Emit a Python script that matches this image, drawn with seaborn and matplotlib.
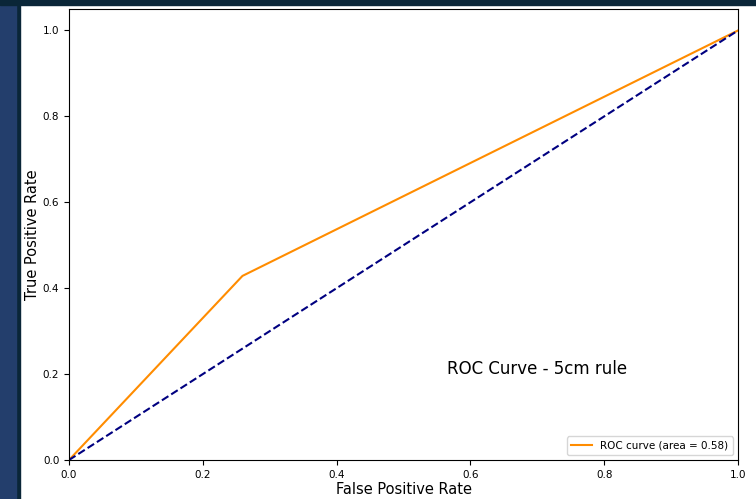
import numpy as np
import pandas as pd
import seaborn as sns
import matplotlib.pyplot as plt
from matplotlib.patches import Rectangle

# ROC points for the 5cm rule
fpr = [0.0, 0.2593, 1.0]
tpr = [0.0, 0.4286, 1.0]
chance = [0.0, 1.0]
roc_auc = 0.58

fig = plt.figure(figsize=(7.56, 4.99), dpi=100)
# screenshot border on the left / top
fig.patches.append(Rectangle((0, 0), 20 / 756, 1, transform=fig.transFigure, color='#0a2638', zorder=-1))
fig.patches.append(Rectangle((0, 0), 16 / 756, 1 - 5 / 499, transform=fig.transFigure, color='#233e6c', zorder=-1))
fig.patches.append(Rectangle((0, 1 - 5 / 499), 1, 5 / 499, transform=fig.transFigure, color='#0a2638', zorder=-1))

ax = fig.add_axes([69 / 756, 1 - 460 / 499, (738 - 69) / 756, (460 - 9) / 499])

sns.lineplot(x=fpr, y=tpr, ax=ax, color='darkorange', lw=1.5,
             label='ROC curve (area = %0.2f)' % roc_auc)
sns.lineplot(x=chance, y=chance, ax=ax, color='navy', lw=1.5, linestyle='--')

ax.set_xlim(0.0, 1.0)
ax.set_ylim(0.0, 1.05)
ax.tick_params(labelsize=7.5)
ax.set_xlabel('False Positive Rate', fontsize=10.5, labelpad=2)
ax.set_ylabel('True Positive Rate', fontsize=10.5, labelpad=2)
ax.text(0.565, 0.2, 'ROC Curve - 5cm rule', fontsize=12)
ax.legend(loc='lower right', fontsize=7.5)

fig.savefig('out.png', dpi=100)
